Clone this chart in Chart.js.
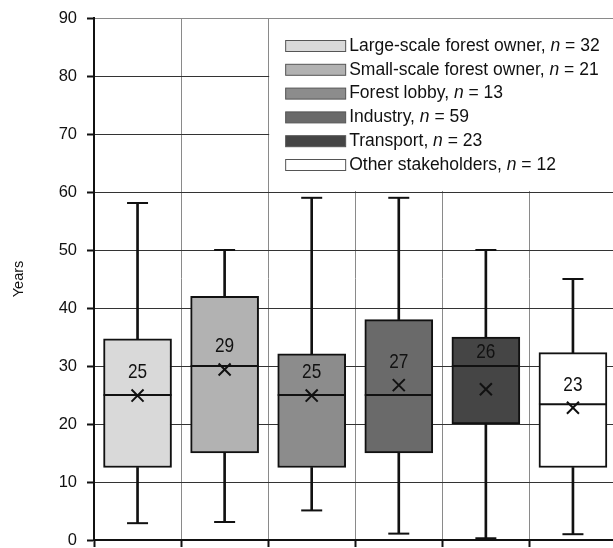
<!DOCTYPE html>
<html>
<head>
<meta charset="utf-8">
<script src="https://cdn.jsdelivr.net/npm/chart.js@4.4.1/dist/chart.umd.min.js"></script>
<style>
  html, body { margin: 0; padding: 0; background: #ffffff; }
  #wrap { width: 613px; height: 548px; position: relative; }
</style>
</head>
<body>
<div id="wrap"><canvas id="c"></canvas></div>
<script>
// ---- data ----
const categories = ['Large-scale forest owner', 'Small-scale forest owner', 'Forest lobby', 'Industry', 'Transport', 'Other stakeholders'];
const nValues = [32, 21, 13, 59, 23, 12];
const whiskerLow = [2.9, 3.1, 5.1, 1.1, 0.3, 1.0];
const q1 = [12.5, 15, 12.5, 15, 20, 12.5];
const median = [25, 30, 25, 25, 30, 23.4];
const q3 = [34.7, 42, 32.1, 38, 35, 32.3];
const whiskerHigh = [58.1, 50, 59, 59, 50, 45];
const means = [24.9, 29.4, 24.9, 26.7, 26.0, 22.8];
const meanLabels = ['25', '29', '25', '27', '26', '23'];
const yTicks = [0, 10, 20, 30, 40, 50, 60, 70, 80, 90];

// ---- styles ----
const fillColors = ['#d9d9d9', '#b2b2b2', '#8c8c8c', '#6a6a6a', '#454545', '#ffffff'];
const SANS = '"Liberation Sans", Arial, sans-serif';

const idx = categories.map((_, i) => i);
const boxData = idx.map(i => ({ x: i, y: [q1[i], q3[i]] }));
const upperWhisker = idx.map(i => ({ x: i, y: [q3[i], whiskerHigh[i]] }));
const lowerWhisker = idx.map(i => ({ x: i, y: [whiskerLow[i], q1[i]] }));
const capHigh = idx.map(i => ({ x: i, y: whiskerHigh[i] }));
const capLow = idx.map(i => ({ x: i, y: whiskerLow[i] }));
const medPts = idx.map(i => ({ x: i, y: median[i] }));
const meanPts = idx.map(i => ({ x: i, y: means[i] }));

const legendPlugin = {
  id: 'boxLegend',
  beforeDatasetsDraw(chart) {
    const ctx = chart.ctx;
    const x = chart.scales.x, y = chart.scales.y;
    const left = x.getPixelForValue(1.5) + 1;
    const top = y.getPixelForValue(90) + 1;
    const bottom = y.getPixelForValue(60) - 1;
    const right = chart.chartArea.right;
    ctx.save();
    ctx.fillStyle = '#ffffff';
    ctx.fillRect(left, top, right - left, bottom - top);
    const rowStart = top + 27;
    const rowStep = 23.8;
    categories.forEach((name, i) => {
      const cy = rowStart + i * rowStep;
      ctx.fillStyle = fillColors[i];
      ctx.fillRect(left + 16.5, cy - 5.5, 60, 11);
      ctx.strokeStyle = '#555555';
      ctx.lineWidth = 1;
      ctx.strokeRect(left + 16.5, cy - 5.5, 60, 11);
      ctx.fillStyle = '#111111';
      ctx.textBaseline = 'middle';
      ctx.textAlign = 'left';
      let tx = left + 80;
      const p1 = name + ', ';
      ctx.font = '17.5px ' + SANS;
      ctx.fillText(p1, tx, cy);
      tx += ctx.measureText(p1).width;
      ctx.font = 'italic 17.5px ' + SANS;
      ctx.fillText('n', tx, cy);
      tx += ctx.measureText('n').width;
      ctx.font = '17.5px ' + SANS;
      ctx.fillText(' = ' + nValues[i], tx, cy);
    });
    ctx.restore();
  }
};

const labelPlugin = {
  id: 'meanLabels',
  afterDatasetsDraw(chart) {
    const ctx = chart.ctx;
    const x = chart.scales.x, y = chart.scales.y;
    idx.forEach(i => {
      const px = x.getPixelForValue(i);
      const py = Math.min(y.getPixelForValue(means[i]) - 23, y.getPixelForValue(median[i]) - 14);
      ctx.save();
      ctx.translate(px, py);
      ctx.scale(0.82, 1);
      ctx.fillStyle = '#111111';
      ctx.font = '21px ' + SANS;
      ctx.textAlign = 'center';
      ctx.textBaseline = 'middle';
      ctx.fillText(meanLabels[i], 0, 0);
      ctx.restore();
    });
  }
};

new Chart(document.getElementById('c'), {
  type: 'bar',
  data: {
    datasets: [
      { type: 'scatter', data: meanPts, order: 0, pointStyle: 'crossRot', pointRadius: 8.5, pointHoverRadius: 8.5,
        borderColor: '#111111', backgroundColor: '#111111', pointBorderWidth: 2 },
      { type: 'scatter', data: medPts, order: 1, pointStyle: 'line', pointRadius: 34, pointHoverRadius: 34,
        borderColor: '#111111', pointBorderWidth: 2 },
      { type: 'scatter', data: capHigh, order: 2, pointStyle: 'line', pointRadius: 10.5, pointHoverRadius: 10.5,
        borderColor: '#111111', pointBorderWidth: 2 },
      { type: 'scatter', data: capLow, order: 2, pointStyle: 'line', pointRadius: 10.5, pointHoverRadius: 10.5,
        borderColor: '#111111', pointBorderWidth: 2 },
      { type: 'bar', data: boxData, order: 3, grouped: false, barThickness: 68,
        backgroundColor: fillColors, borderColor: '#111111', borderWidth: 2, borderSkipped: false },
      { type: 'bar', data: upperWhisker, order: 4, grouped: false, barThickness: 2,
        backgroundColor: '#111111', borderWidth: 0 },
      { type: 'bar', data: lowerWhisker, order: 4, grouped: false, barThickness: 2,
        backgroundColor: '#111111', borderWidth: 0 }
    ]
  },
  options: {
    responsive: true,
    maintainAspectRatio: false,
    animation: false,
    events: [],
    layout: { autoPadding: false, padding: { top: 18, right: 0, bottom: 0, left: 0 } },
    plugins: { legend: { display: false }, tooltip: { enabled: false } },
    scales: {
      x: {
        type: 'linear',
        min: -0.5,
        max: 5.46,
        offset: false,
        afterBuildTicks: s => { s.ticks = [-0.5, 0.5, 1.5, 2.5, 3.5, 4.5].map(v => ({ value: v })); },
        afterFit: s => { s.height = 8; s.paddingLeft = 0; s.paddingRight = 0; },
        ticks: { callback: () => '', padding: 0 },
        grid: { offset: false, color: '#8a8a8a', lineWidth: 1, tickColor: '#111111', tickLength: 7, tickWidth: 2 },
        border: { color: '#111111', width: 2 }
      },
      y: {
        min: 0,
        max: 90,
        afterBuildTicks: s => { s.ticks = yTicks.map(v => ({ value: v })); },
        afterFit: s => { s.width = 94; s.paddingTop = 0; s.paddingBottom = 0; },
        ticks: { color: '#111111', font: { family: SANS, size: 16.5 }, padding: 10 },
        grid: {
          color: c => (c.tick && c.tick.value === 90) ? '#8a8a8a' : '#333333',
          lineWidth: 1, tickColor: '#111111', tickLength: 7, tickWidth: 2
        },
        border: { color: '#111111', width: 2 },
        title: { display: true, text: 'Years', color: '#111111', font: { family: SANS, size: 14.5 }, padding: { top: 10, bottom: 0 } }
      }
    }
  },
  plugins: [legendPlugin, labelPlugin]
});
</script>
</body>
</html>
